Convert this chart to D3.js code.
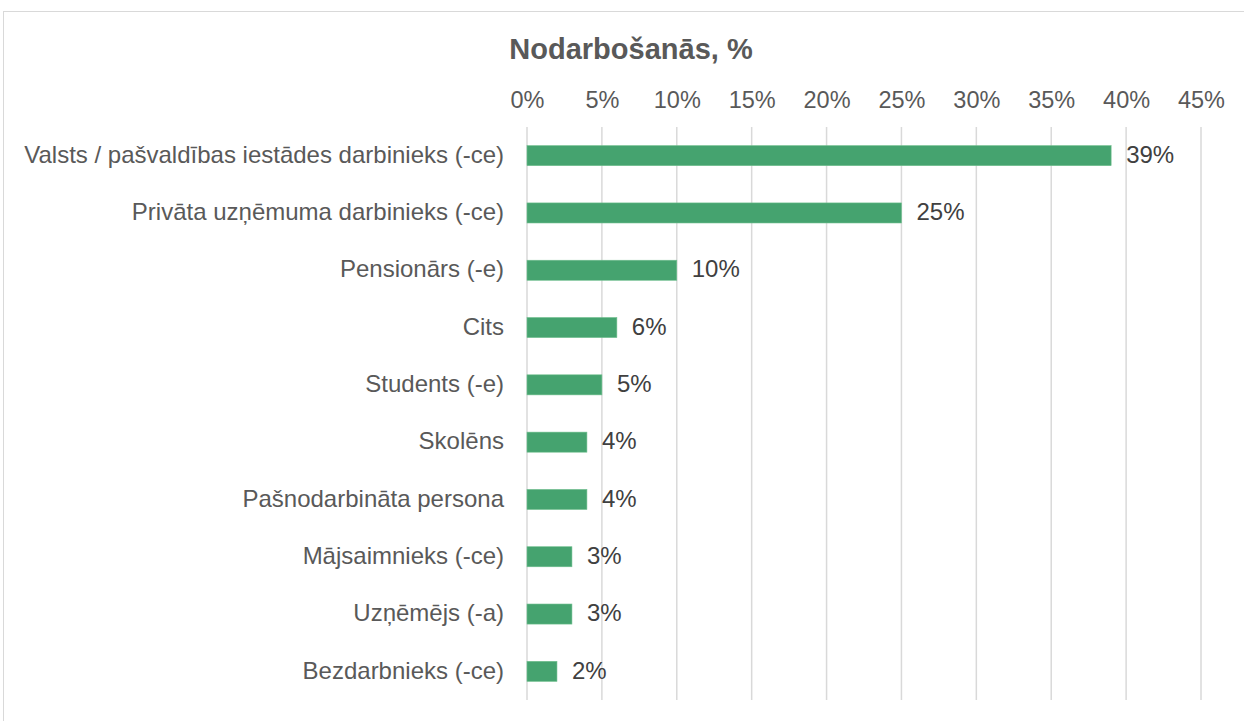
<!DOCTYPE html>
<html>
<head>
<meta charset="utf-8">
<script src="https://cdn.jsdelivr.net/npm/d3@7"></script>
<style>
  body { margin: 0; background: #fff; }
  svg { display: block; font-family: "Liberation Sans", Arial, sans-serif; }
</style>
</head>
<body>
<div id="chartContainer"></div>
<script>
const categories = [
    "Valsts / pašvaldības iestādes darbinieks (-ce)",
    "Privāta uzņēmuma darbinieks (-ce)",
    "Pensionārs (-e)",
    "Cits",
    "Students (-e)",
    "Skolēns",
    "Pašnodarbināta persona",
    "Mājsaimnieks (-ce)",
    "Uzņēmējs (-a)",
    "Bezdarbnieks (-ce)"
];
const values = [39, 25, 10, 6, 5, 4, 4, 3, 3, 2];
const tickValues = [0, 5, 10, 15, 20, 25, 30, 35, 40, 45];
const title = "Nodarbošanās, %";

const width = 1244;
const height = 721;
const marginTop = 127;
const marginBottom = 21;
const marginLeft = 527;
const marginRight = 43;

const svg = d3.create("svg")
    .attr("width", width)
    .attr("height", height)
    .attr("viewBox", [0, 0, width, height]);

// chart border
svg.append("rect")
    .attr("x", 3.5)
    .attr("y", 11.5)
    .attr("width", width + 10)
    .attr("height", height + 10)
    .attr("fill", "none")
    .attr("stroke", "#d9d9d9")
    .attr("stroke-width", 1);

const x = d3.scaleLinear()
    .domain([0, 45])
    .range([marginLeft, width - marginRight]);

const y = d3.scaleBand()
    .domain(categories)
    .range([marginTop, height - marginBottom])
    .paddingInner(0.65)
    .paddingOuter(0.325);

// gridlines
svg.append("g")
    .selectAll("line")
    .data(tickValues)
    .join("line")
    .attr("x1", d => x(d))
    .attr("x2", d => x(d))
    .attr("y1", marginTop)
    .attr("y2", height - marginBottom)
    .attr("stroke", "#d9d9d9")
    .attr("stroke-width", 1.5);

// top axis labels
const xAxis = svg.append("g")
    .attr("transform", `translate(0,${marginTop})`)
    .call(d3.axisTop(x).tickValues(tickValues).tickFormat(d => d + "%").tickSize(0).tickPadding(19));
xAxis.select(".domain").remove();
xAxis.selectAll("text")
    .attr("font-size", 23.5)
    .attr("font-family", "Liberation Sans, Arial, sans-serif")
    .attr("fill", "#595959");

// category labels
const yAxis = svg.append("g")
    .attr("transform", `translate(${marginLeft},0)`)
    .call(d3.axisLeft(y).tickSize(0).tickPadding(23));
yAxis.select(".domain").remove();
yAxis.selectAll("text")
    .attr("font-size", 24)
    .attr("dy", "0.3em")
    .attr("font-family", "Liberation Sans, Arial, sans-serif")
    .attr("fill", "#595959");

// bars
svg.append("g")
    .selectAll("rect")
    .data(values)
    .join("rect")
    .attr("x", x(0))
    .attr("y", (d, i) => y(categories[i]))
    .attr("width", d => x(d) - x(0))
    .attr("height", y.bandwidth())
    .attr("fill", "#45a36f")
    .attr("stroke", "#6fbf8e")
    .attr("stroke-width", 0.6);

// data labels
svg.append("g")
    .selectAll("text")
    .data(values)
    .join("text")
    .attr("x", d => x(d) + 15)
    .attr("y", (d, i) => y(categories[i]) + y.bandwidth() / 2)
    .attr("dy", "0.3em")
    .attr("font-size", 24)
    .attr("fill", "#404040")
    .text(d => d + "%");

// title
svg.append("text")
    .attr("x", 631)
    .attr("y", 59)
    .attr("text-anchor", "middle")
    .attr("font-size", 29)
    .attr("font-weight", "bold")
    .attr("fill", "#595959")
    .text(title);

document.getElementById('chartContainer').appendChild(svg.node());
</script>
</body>
</html>
